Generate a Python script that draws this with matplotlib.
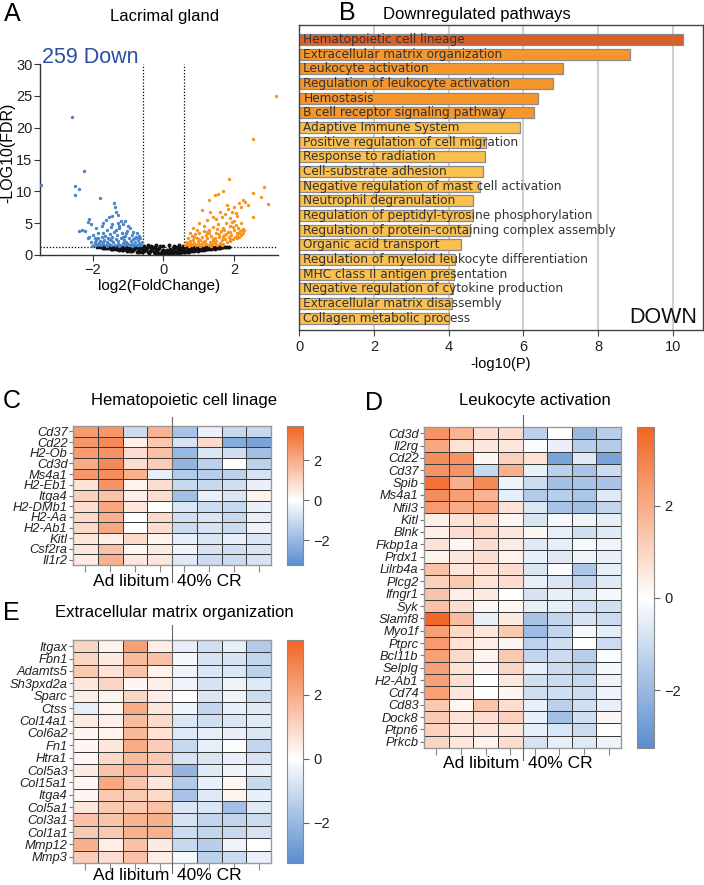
import matplotlib
matplotlib.use("Agg")
import matplotlib.pyplot as plt
import numpy as np
from matplotlib.colors import LinearSegmentedColormap, Normalize

plt.rcParams['font.family'] = ['Liberation Sans', 'DejaVu Sans']

W, H = 704, 885

# ---------------- Panel A data (volcano) ----------------
blue_pts = [(-2.02,1.45),(-1.98,1.6),(-1.95,2.0),(-1.92,1.8),(-1.9,2.3),(-1.88,1.5),(-1.85,2.6),(-1.82,1.9),
            (-1.8,2.2),(-1.78,1.55),(-1.75,2.8),(-1.72,2.0),(-1.7,1.7),(-1.68,2.4),(-1.65,3.0),(-1.62,1.5),
            (-1.6,2.1),(-1.58,2.7),(-1.55,1.8),(-1.52,3.3),(-1.5,2.3),(-1.48,1.6),(-1.45,2.9),(-1.42,2.0),
            (-1.4,3.6),(-1.38,1.5),(-1.35,2.5),(-1.32,3.1),(-1.3,1.8),(-1.28,2.2),(-1.25,4.2),(-1.22,1.6),
            (-1.2,2.7),(-1.18,3.4),(-1.15,1.9),(-1.12,2.4),(-1.1,1.5),(-1.08,3.0),(-1.05,2.1),(-1.02,3.8),
            (-1.0,1.7),(-0.98,2.6),(-0.95,1.5),(-0.92,2.2),(-0.9,3.2),(-0.88,1.8),(-0.85,2.5),(-0.82,1.5),
            (-0.8,2.0),(-0.78,2.9),(-0.75,1.6),(-0.72,2.3),(-0.7,1.5),(-0.68,1.9),(-0.65,2.6),(-0.63,1.6),
            (-0.61,2.1),(-3.48,11.0),(-2.6,21.7),(-2.25,13.2),(-2.52,10.8),(-2.38,10.4),(-2.52,9.4),
            (-1.8,9.0),(-1.4,8.1),(-1.38,7.5),(-1.35,6.8),(-1.3,6.3),(-2.12,5.6),(-2.14,5.2),(-2.05,4.8),
            (-2.3,3.9),(-2.22,3.7),(-2.4,3.8),(-1.55,6.0),(-1.45,6.1),(-1.62,5.5),(-1.2,5.3),(-1.1,5.3),
            (-1.3,5.0),(-1.0,4.6),(-1.75,4.5),(-1.7,5.0),(-1.9,4.2),(-2.0,3.2),(-2.1,2.9),(-2.15,2.6),
            (-1.5,4.4),(-1.6,3.9),(-0.95,4.2),(-0.85,3.6),(-0.75,3.4),(-1.15,4.8),(-0.68,3.0),(-1.85,3.4),
            (-1.45,4.9),(-1.25,4.6),(-1.95,2.7),(-1.7,3.5),(-1.35,3.9),(-1.05,3.4),(-0.7,2.7),(-2.05,2.1),
            (-1.6,1.4),(-1.25,1.4),(-0.9,1.4),(-1.55,2.5),(-1.15,2.9),(-0.8,2.6)]

orange_pts = [(0.62,1.5),(0.65,2.0),(0.68,1.7),(0.7,2.6),(0.72,1.4),(0.75,2.2),(0.78,1.8),(0.8,3.0),
              (0.82,1.5),(0.85,2.4),(0.88,1.9),(0.9,3.3),(0.92,1.6),(0.95,2.7),(0.98,2.1),(1.0,1.5),
              (1.02,3.5),(1.05,2.4),(1.08,1.8),(1.1,2.9),(1.12,1.5),(1.15,3.8),(1.18,2.2),(1.2,1.7),
              (1.22,3.2),(1.25,2.6),(1.28,1.6),(1.3,4.0),(1.32,2.0),(1.35,3.0),(1.38,1.7),(1.4,2.5),
              (1.42,4.4),(1.45,1.9),(1.48,3.4),(1.5,2.2),(1.52,1.6),(1.55,4.8),(1.58,2.8),(1.6,1.9),
              (1.62,3.7),(1.65,2.4),(1.68,4.3),(1.7,1.8),(1.72,3.1),(1.75,2.5),(1.78,5.0),(1.8,2.0),
              (1.82,3.6),(1.85,2.8),(1.88,4.5),(1.9,2.2),(1.92,3.2),(1.95,5.2),(1.98,2.5),(2.0,3.9),
              (2.02,2.9),(2.05,4.7),(2.08,2.6),(2.1,3.5),(2.12,4.2),(2.15,2.9),(2.18,3.8),(2.2,3.2),
              (2.22,4.0),(2.25,3.5),(2.28,3.9),(0.75,3.5),(0.95,3.9),(1.15,4.5),(1.05,1.4),(1.35,1.4),
              (1.65,1.5),(0.88,2.8),(1.25,3.6),(1.45,2.7),(1.7,2.9),(1.9,3.6),(3.2,25.0),(2.55,18.2),
              (1.85,12.0),(2.85,10.7),(2.55,9.7),(1.68,10.0),(1.55,9.6),(1.45,9.5),(1.3,8.7),(2.78,9.1),
              (2.97,8.0),(2.55,5.9),(1.1,7.0),(1.33,6.8),(2.25,8.6),(2.3,8.3),(2.15,8.1),(2.4,7.9),
              (1.8,7.8),(1.82,7.2),(2.0,7.6),(2.2,7.5),(1.95,6.8),(1.65,6.0),(2.0,5.4),(1.5,5.6),
              (1.75,6.5),(2.1,6.2),(1.25,5.5),(1.0,5.0),(1.9,5.8),(2.2,5.0),(1.4,5.9),(0.85,4.2),
              (1.6,6.8),(2.05,6.6),(1.12,2.0),(1.42,2.2),(1.58,3.3),(1.78,3.3),(1.98,4.4),(2.15,3.4),
              (0.7,1.9),(0.98,2.5),(1.3,3.4),(1.52,4.1),(1.72,4.0),(1.88,2.5),(2.08,3.0),(2.25,4.1)]

black_pts = [(-1.80,1.25),(-1.75,1.20),(-1.72,1.28),(-1.68,1.15),(-1.65,1.25),(-1.62,1.10),(-1.60,1.22),
             (-1.57,1.05),(-1.55,1.18),(-1.52,1.28),(-1.50,1.00),(-1.48,1.12),(-1.45,1.22),(-1.42,0.95),
             (-1.40,1.08),(-1.38,1.20),(-1.35,0.90),(-1.32,1.02),(-1.30,1.15),(-1.28,1.26),(-1.25,0.82),
             (-1.22,0.95),(-1.20,1.08),(-1.18,1.20),(-1.15,0.75),(-1.12,0.88),(-1.10,1.00),(-1.08,1.12),
             (-1.05,1.24),(-1.02,0.68),(-1.00,0.80),(-0.98,0.93),(-0.95,1.05),(-0.92,1.18),(-0.90,0.60),
             (-0.88,0.72),(-0.85,0.85),(-0.82,0.98),(-0.80,1.10),(-0.78,1.25),(-0.75,0.50),(-0.72,0.62),
             (-0.70,0.76),(-0.68,0.90),(-0.65,1.03),(-0.62,1.17),(-0.60,0.42),(-0.58,0.55),(-0.55,0.70),
             (-0.52,0.85),(-0.50,1.00),(-0.48,1.15),(-0.45,1.30),(-0.42,0.30),(-0.40,0.45),(-0.38,0.62),
             (-0.35,0.78),(-0.32,0.95),(-0.30,1.10),(-0.28,1.28),(-0.25,0.20),(-0.22,0.38),(-0.20,0.55),
             (-0.18,0.72),(-0.15,0.90),(-0.12,1.05),(-0.10,0.12),(-0.08,0.30),(-0.05,0.48),(-0.03,0.65),
             (0.00,0.05),(0.00,0.80),(0.05,0.10),(0.05,0.55),(0.08,0.35),(0.10,0.80),(0.12,0.15),
             (0.15,0.60),(0.18,1.00),(0.20,0.25),(0.22,0.45),(0.25,0.85),(0.28,0.20),(0.30,1.15),
             (0.32,0.40),(0.35,0.70),(0.38,0.30),(0.40,1.00),(0.42,0.55),(0.45,1.25),(0.48,0.35),
             (0.50,0.80),(0.52,1.10),(0.55,0.45),(0.58,0.95),(0.60,0.40),(0.62,0.70),(0.65,1.20),
             (0.68,0.50),(0.70,0.95),(0.72,0.40),(0.75,0.75),(0.78,1.10),(0.80,0.55),(0.82,0.90),
             (0.85,1.25),(0.88,0.60),(0.90,1.00),(0.92,0.75),(0.95,1.20),(0.98,0.65),(1.00,0.95),
             (1.02,1.15),(1.05,0.75),(1.08,1.05),(1.10,0.85),(1.12,1.25),(1.15,0.80),(1.18,1.05),
             (1.20,0.95),(1.22,1.20),(1.25,0.90),(1.28,1.10),(1.30,1.00),(1.32,1.25),(1.35,0.95),
             (1.38,1.15),(1.40,1.05),(1.42,1.25),(1.45,1.00),(1.48,1.18),(1.50,1.10),(1.52,1.28),
             (1.55,1.05),(1.58,1.20),(1.60,1.15),(1.65,1.25),(1.70,1.20),(1.75,1.28),(1.80,1.25),
             (-0.55,1.45),(-0.45,1.55),(-0.35,1.40),(-0.20,1.50),(0.00,1.42),(0.15,1.55),(0.30,1.45),
             (0.45,1.52),(0.55,1.40),(-0.10,1.35),(-0.58,0.85),(-0.2,0.9),(0.2,0.7),(0.58,1.2),
             (-0.9,0.85),(0.9,0.8),(-1.3,1.25),(1.3,1.15),(-1.6,1.28),(1.6,1.25),
             (-1.70,1.05),(-1.45,0.98),(-1.18,0.80),(-0.95,0.70),(-0.68,0.45),(-0.45,0.40),(-0.28,0.45),
             (0.28,0.50),(0.48,0.60),(0.70,0.62),(0.95,0.85),(1.18,0.90),(1.40,1.15),(1.62,1.18),
             (1.85,1.28),(-1.88,1.28),(-0.15,0.25),(0.15,0.30),(-0.35,1.20),(0.35,1.20)]

# ---------------- Panel B data ----------------
pathways = ["Hematopoietic cell lineage", "Extracellular matrix organization", "Leukocyte activation",
            "Regulation of leukocyte activation", "Hemostasis", "B cell receptor signaling pathway",
            "Adaptive Immune System", "Positive regulation of cell migration", "Response to radiation",
            "Cell-substrate adhesion", "Negative regulation of mast cell activation",
            "Neutrophil degranulation", "Regulation of peptidyl-tyrosine phosphorylation",
            "Regulation of protein-containing complex assembly", "Organic acid transport",
            "Regulation of myeloid leukocyte differentiation", "MHC class II antigen presentation",
            "Negative regulation of cytokine production", "Extracellular matrix disassembly",
            "Collagen metabolic process"]
neglogp = [10.27, 8.85, 7.07, 6.80, 6.40, 6.27, 5.92, 4.99, 4.98, 4.91, 4.85, 4.65, 4.64, 4.56,
           4.33, 4.16, 4.14, 4.12, 4.10, 4.02]
tiers = [0, 1, 1, 1, 1, 1, 2, 2, 2, 2, 2, 2, 2, 2, 2, 2, 2, 2, 2, 2]
tier_colors = ['#d8612b', '#f6962b', '#fcc04f']

# ---------------- Heatmap data ----------------
c_genes = ["Cd37", "Cd22", "H2-Ob", "Cd3d", "Ms4a1", "H2-Eb1", "Itga4", "H2-DMb1", "H2-Aa",
           "H2-Ab1", "Kitl", "Csf2ra", "Il1r2"]
c_vals = [[2.4, 2.5, -1.0, 1.8, -1.7, -0.4, -1.1, -1.1],
          [2.5, 2.8, 0.4, 1.3, -0.8, 0.9, -2.4, -2.6],
          [2.4, 2.6, 0.8, 1.5, -2.0, -0.7, -0.9, -1.8],
          [2.0, 2.8, 0.8, 1.2, -2.1, -1.3, 0.0, -1.3],
          [2.5, 2.7, 1.9, -0.5, -1.5, -1.4, -1.3, -0.8],
          [0.7, 2.6, 0.3, 0.8, -1.1, -1.1, -0.9, -0.4],
          [1.1, 1.4, 0.4, 0.8, -1.8, -0.4, -0.7, 0.3],
          [0.8, 2.1, 0.6, 0.0, -0.7, -1.0, -1.1, -0.4],
          [0.9, 1.9, 0.0, 0.9, -0.9, -0.7, -1.1, -0.5],
          [0.9, 2.1, 0.0, 0.8, -1.0, -0.8, -1.0, -0.3],
          [0.6, 0.4, 0.9, 0.3, -0.5, -0.7, -0.4, -0.7],
          [0.6, 1.5, 0.2, 0.5, -0.3, -0.8, -0.9, -0.7],
          [0.5, 1.9, 0.6, 0.6, -0.6, -1.0, -1.0, -0.8]]

d_genes = ["Cd3d", "Il2rg", "Cd22", "Cd37", "Spib", "Ms4a1", "Nfil3", "Kitl", "Blnk", "Fkbp1a",
           "Prdx1", "Lilrb4a", "Plcg2", "Ifngr1", "Syk", "Slamf8", "Myo1f", "Ptprc", "Bcl11b",
           "Selplg", "H2-Ab1", "Cd74", "Cd83", "Dock8", "Ptpn6", "Prkcb"]
d_vals = [[2.6, 1.8, 0.8, 0.8, -1.3, 0.0, -2.0, -1.4],
          [2.1, 0.7, 0.6, 0.6, -0.1, -0.4, -1.4, -1.5],
          [2.7, 2.6, 0.2, 1.1, 0.7, -2.6, -0.6, -2.6],
          [2.6, 2.6, -1.1, 1.9, -0.4, -1.3, -1.7, -1.0],
          [3.4, 1.9, 2.8, -0.3, -1.0, -1.8, -1.7, -1.7],
          [2.7, 2.3, 1.8, -0.5, -1.5, -1.4, -1.6, -0.6],
          [2.4, 2.0, 2.1, 0.7, -0.7, -1.7, -1.8, -1.2],
          [0.4, 0.7, 0.8, 0.2, -0.7, -0.2, -0.3, -0.5],
          [0.4, 0.8, 0.9, 0.6, 0.2, -0.5, -0.9, -0.6],
          [0.7, 0.2, 0.8, 0.5, -0.6, -0.5, -0.2, -0.3],
          [0.3, 0.6, 0.8, 0.3, -0.4, -0.6, -0.3, -0.4],
          [1.5, 0.6, 0.7, 0.8, -0.7, -0.1, -1.6, -0.5],
          [1.1, 1.3, 0.7, 0.8, -0.5, -0.7, -1.2, -0.6],
          [1.4, 0.4, 0.5, 0.0, -0.8, -0.4, -0.6, -0.2],
          [1.5, 0.8, 0.2, 0.2, -0.5, -0.5, -0.9, -0.9],
          [3.6, 1.6, -0.4, 0.5, -1.7, -1.2, -0.8, -1.0],
          [2.3, 0.9, 0.6, 1.3, -1.9, -1.2, -0.2, -0.5],
          [2.4, 0.7, 0.4, 0.2, -1.3, -0.9, 0.0, -1.0],
          [2.3, 0.9, 0.3, 1.3, -1.2, -1.0, -1.4, -0.1],
          [2.3, 0.7, 0.2, 1.0, -0.5, -1.0, -1.3, -0.2],
          [2.3, 0.8, 0.0, 0.6, -0.9, -1.0, -1.1, -0.3],
          [2.3, 0.6, 0.0, 0.2, -0.9, -0.9, -1.0, -0.3],
          [1.3, 0.2, 1.4, 0.8, -0.4, -1.3, -0.9, -0.5],
          [1.3, 0.7, 0.8, 1.1, -0.4, -1.8, -0.9, 0.2],
          [1.1, 0.6, 0.6, 0.6, -0.5, -0.7, -1.0, 0.0],
          [1.0, 0.6, 0.3, 0.8, -0.8, -0.5, -0.6, -0.3]]

e_genes = ["Itgax", "Fbn1", "Adamts5", "Sh3pxd2a", "Sparc", "Ctss", "Col14a1", "Col6a2", "Fn1",
           "Htra1", "Col5a3", "Col15a1", "Itga4", "Col5a1", "Col3a1", "Col1a1", "Mmp12", "Mmp3"]
e_vals = [[1.0, 0.3, 2.3, 0.4, -0.5, -0.9, -0.5, -1.5],
          [1.0, 0.5, 1.6, 1.5, -0.2, -0.8, -0.8, -1.2],
          [1.3, 0.7, 1.4, 0.3, -0.3, -0.7, -0.7, -1.3],
          [0.6, 1.0, 0.2, 0.4, -0.3, -0.8, -0.3, -0.6],
          [0.4, 0.3, 1.0, 0.4, 0.0, -0.7, -0.3, -1.0],
          [-0.5, 0.3, 2.0, 0.6, -0.3, -1.2, -0.4, -0.6],
          [0.5, 0.4, 1.6, 0.9, -0.7, -0.9, -0.7, -0.6],
          [0.2, 0.3, 1.7, 0.7, -0.6, -0.5, -0.4, -0.7],
          [0.2, 0.6, 2.0, 1.2, -1.1, -0.5, -0.1, -1.2],
          [0.2, 0.9, 1.6, 1.3, -0.8, -0.7, -0.4, -0.8],
          [0.5, 1.4, 1.8, 1.2, -2.1, -0.6, -0.3, -0.4],
          [0.2, 2.1, 1.4, 0.6, -1.5, -0.4, 0.2, -1.1],
          [0.2, 1.3, 1.3, 0.9, -1.7, -0.6, 0.3, -0.4],
          [0.6, 1.3, 1.3, 1.5, -0.7, -0.7, -1.8, -0.6],
          [1.5, 1.4, 1.8, 1.9, -0.8, -1.2, -1.2, -1.0],
          [1.3, 1.3, 1.9, 1.9, -1.0, -1.2, -1.1, -0.8],
          [1.9, 0.4, 1.5, 0.5, -1.1, -1.4, -0.3, 0.0],
          [1.2, 0.8, 1.5, 0.4, -0.2, -1.3, -1.0, -0.4]]

group_labels = ["Ad libitum", "40% CR"]
cbar_ticks = [-2, 0, 2]
VMIN, VMAX = -3.25, 3.7

# ---------------- Figure ----------------
fig = plt.figure(figsize=(W / 100, H / 100), dpi=100)


def box(l, t, r, b):
    return [l / W, 1 - b / H, (r - l) / W, (b - t) / H]


def ftext(x, y, s, **kw):
    fig.text(x / W, 1 - y / H, s, **kw)


# ---- Panel A ----
axA = fig.add_axes(box(40, 64, 278, 255))
bx, by = zip(*black_pts)
ox, oy = zip(*orange_pts)
ux, uy = zip(*blue_pts)
axA.scatter(bx, by, s=8, color='#111111', linewidths=0, zorder=2)
axA.scatter(ox, oy, s=6, color='#f7941d', linewidths=0, zorder=3)
axA.scatter(ux, uy, s=6, color='#4a86c8', linewidths=0, zorder=3)
axA.axvline(-0.585, color='black', ls=(0, (1, 1.5)), lw=0.9, zorder=1)
axA.axvline(0.585, color='black', ls=(0, (1, 1.5)), lw=0.9, zorder=1)
axA.axhline(1.3, color='black', ls=(0, (1, 1.5)), lw=0.9, zorder=1)
axA.set_xlim(-3.5, 3.25)
axA.set_ylim(0, 30)
axA.set_xticks([-2, 0, 2])
axA.set_yticks([0, 5, 10, 15, 20, 25, 30])
for sp in ['top', 'right']:
    axA.spines[sp].set_visible(False)
for sp in ['left', 'bottom']:
    axA.spines[sp].set_color('#333333')
    axA.spines[sp].set_linewidth(1.0)
axA.tick_params(labelsize=10.5, length=4, color='#333333', labelcolor='#222222', pad=1.5)
axA.set_xlabel("log2(FoldChange)", fontsize=11, labelpad=2)
ftext(8, 153, "-LOG10(FDR)", fontsize=11.5, rotation=90, ha='center', va='center')
axA.text(0.01, 1.035, "259 Down", transform=axA.transAxes, color='#2b4ea2', fontsize=15.5,
         ha='left', va='center')
ftext(4, 14, "A", fontsize=18, ha='left', va='center')
ftext(165, 17, "Lacrimal gland", fontsize=12, ha='center', va='center')

# ---- Panel B ----
axB = fig.add_axes(box(299, 25, 703, 330))
ypos = np.arange(len(pathways))
axB.barh(ypos, neglogp, height=0.75, color=[tier_colors[t] for t in tiers],
         edgecolor='#8a8a8a', linewidth=0.9, zorder=2)
for xv in [2, 4, 6, 8, 10]:
    axB.axvline(xv, color='#cccccc', lw=1.3, zorder=1)
for i, name in enumerate(pathways):
    axB.text(0.12, i, name, va='center', ha='left', fontsize=8.7, family='DejaVu Sans',
             color='#333333', zorder=3)
axB.set_xlim(0, 10.8)
axB.set_ylim(len(pathways) - 0.2, -1.0)
axB.set_yticks([])
axB.set_xticks([0, 2, 4, 6, 8, 10])
axB.tick_params(axis='x', labelsize=10.5, length=4, color='#444444', labelcolor='#222222')
for sp in axB.spines.values():
    sp.set_color('#444444')
    sp.set_linewidth(1.0)
axB.set_xlabel("-log10(P)", fontsize=10.5, labelpad=2)
axB.text(0.985, 0.04, "DOWN", transform=axB.transAxes, fontsize=15.5, ha='right', va='center',
         color='#111111')
ftext(339, 13, "B", fontsize=18, ha='left', va='center')
ftext(477, 14, "Downregulated pathways", fontsize=12, ha='center', va='center')

# ---- Heatmaps ----
cmap = LinearSegmentedColormap.from_list(
    'bo', [(0.0, '#5a8dcf'), (-VMIN / (VMAX - VMIN), '#ffffff'), (1.0, '#f26522')])
norm = Normalize(vmin=VMIN, vmax=VMAX)


def heatmap(l, t, r, b, cl, cr, genes, vals, title, title_xy, letter, letter_xy,
            line_above, line_below, label_below):
    ax = fig.add_axes(box(l, t, r, b))
    data = np.array(vals)
    nr, nc = data.shape
    mesh = ax.pcolormesh(np.arange(nc + 1), np.arange(nr + 1), data, cmap=cmap, norm=norm,
                         edgecolors='#3a3a3a', linewidth=0.7)
    ax.set_xlim(0, nc)
    ax.set_ylim(nr, 0)
    ax.set_yticks(np.arange(nr) + 0.5)
    ax.set_yticklabels(genes, fontstyle='italic', fontsize=9.3, color='#222222')
    ax.set_xticks(np.arange(nc) + 0.5)
    ax.set_xticklabels([])
    ax.tick_params(axis='y', length=3, color='#777777', pad=1)
    ax.tick_params(axis='x', length=5, color='#888888')
    for sp in ax.spines.values():
        sp.set_color('#999999')
        sp.set_linewidth(1.0)
    hpx = b - t
    ax.plot([0.5, 0.5], [1 + line_above / hpx, -line_below / hpx], transform=ax.transAxes,
            color='#666666', lw=0.8, clip_on=False, zorder=5)
    wpx = r - l
    ax.text(0.5 - 3 / wpx, -label_below / hpx, group_labels[0], transform=ax.transAxes,
            ha='right', va='center', fontsize=12.5)
    ax.text(0.5 + 5 / wpx, -label_below / hpx, group_labels[1], transform=ax.transAxes,
            ha='left', va='center', fontsize=12.5)
    cax = fig.add_axes(box(cl, t, cr, b))
    cb = fig.colorbar(mesh, cax=cax, ticks=cbar_ticks)
    cb.outline.set_edgecolor('#888888')
    cb.ax.tick_params(labelsize=10.5, length=4, color='#666666', labelcolor='#222222')
    ftext(title_xy[0], title_xy[1], title, fontsize=12, ha='center', va='center')
    ftext(letter_xy[0], letter_xy[1], letter, fontsize=18, ha='left', va='center')
    return ax


heatmap(73, 426, 271, 565, 287, 303, c_genes, c_vals, "Hematopoietic cell linage", (184, 400),
        "C", (3, 401), 9, 17, 17)
heatmap(424, 427, 621, 748, 637, 654, d_genes, d_vals, "Leukocyte activation", (535, 401),
        "D", (365, 403), 12, 12, 16)
heatmap(73, 640, 271, 863, 287, 303, e_genes, e_vals, "Extracellular matrix organization", (174, 613),
        "E", (3, 613), 15, 10, 13)

fig.savefig("out.png", dpi=100)
